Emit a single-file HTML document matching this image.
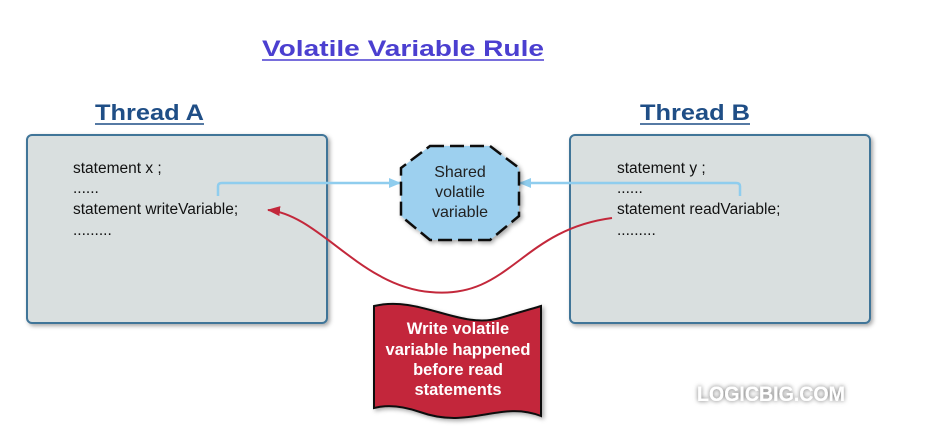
<!DOCTYPE html>
<html><head><style>body{margin:0;background:#fff}svg{display:block}</style></head><body>
<svg width="940" height="441" viewBox="0 0 940 441" xmlns="http://www.w3.org/2000/svg" font-family="Liberation Sans, sans-serif">
<defs>
<filter id="sh" x="-10%" y="-10%" width="130%" height="130%"><feDropShadow dx="2" dy="2" stdDeviation="2" flood-color="#000" flood-opacity="0.35"/></filter>
<filter id="glow" x="-10%" y="-30%" width="120%" height="160%"><feDropShadow dx="0" dy="0" stdDeviation="2.5" flood-color="#000" flood-opacity="0.6"/></filter>
<marker id="ab" markerWidth="12" markerHeight="10" refX="11" refY="5" orient="auto" markerUnits="userSpaceOnUse"><path d="M0,0 L12,5 L0,10 Z" fill="#8fcdee"/></marker>
<marker id="ar" markerWidth="14" markerHeight="10" refX="12" refY="5" orient="auto" markerUnits="userSpaceOnUse"><path d="M0,0 L13,5 L0,10 Z" fill="#c3283b"/></marker>
</defs>
<text x="262" y="56" font-size="22" font-weight="bold" fill="#4b3fd0" textLength="282" lengthAdjust="spacingAndGlyphs">Volatile Variable Rule</text>
<line x1="262" y1="60" x2="544" y2="60" stroke="#4b3fd0" stroke-width="1.5"/>
<text x="95" y="120" font-size="22" font-weight="bold" fill="#1f4e86" textLength="109" lengthAdjust="spacingAndGlyphs">Thread A</text>
<line x1="95" y1="124" x2="204" y2="124" stroke="#1f4e86" stroke-width="1.5"/>
<text x="640" y="120" font-size="22" font-weight="bold" fill="#1f4e86" textLength="110" lengthAdjust="spacingAndGlyphs">Thread B</text>
<line x1="640" y1="124" x2="750" y2="124" stroke="#1f4e86" stroke-width="1.5"/>
<rect x="27" y="135" width="300" height="188" rx="5" fill="#d9dfdf" stroke="#3f7498" stroke-width="2" filter="url(#sh)"/>
<rect x="570" y="135" width="300" height="188" rx="5" fill="#d9dfdf" stroke="#3f7498" stroke-width="2" filter="url(#sh)"/>
<g font-size="15.5" fill="#111">
<text x="73" y="173">statement x ;</text>
<text x="73" y="193">......</text>
<text x="73" y="214">statement writeVariable;</text>
<text x="73" y="235">.........</text>
<text x="617" y="173">statement y ;</text>
<text x="617" y="193">......</text>
<text x="617" y="214">statement readVariable;</text>
<text x="617" y="235">.........</text>
</g>
<path d="M218,196 L218,186 Q218,183 222,183 L400,183" fill="none" stroke="#8fcdee" stroke-width="2.5" marker-end="url(#ab)"/>
<path d="M740,196 L740,186 Q740,183 736,183 L520,183" fill="none" stroke="#8fcdee" stroke-width="2.5" marker-end="url(#ab)"/>
<polygon points="430,146 490,146 519,168 519,216 490,240 430,240 401,216 401,168" fill="#9dd0ef" stroke="#111" stroke-width="2.5" stroke-dasharray="14,6" filter="url(#sh)"/>
<g font-size="16" fill="#222" text-anchor="middle">
<text x="460" y="177">Shared</text><text x="460" y="197">volatile</text><text x="460" y="217">variable</text>
</g>
<path d="M612,218 C520,230 510,300 430,292 C360,286 320,215 268,210" fill="none" stroke="#c3283b" stroke-width="2" marker-end="url(#ar)"/>
<path d="M374,306 C420,295 460,330 500,318 C520,312 535,308 541,306 L541,416 C500,400 470,430 420,412 C400,405 385,405 374,408 Z" fill="#c3283b" stroke="#111" stroke-width="2" filter="url(#sh)"/>
<g font-size="16.5" font-weight="bold" fill="#fff" text-anchor="middle">
<text x="458" y="334">Write volatile</text><text x="458" y="355">variable happened</text><text x="458" y="375">before read</text><text x="458" y="395">statements</text>
</g>
<text x="697" y="401" font-size="21" font-weight="bold" fill="#fff" textLength="148" lengthAdjust="spacingAndGlyphs" filter="url(#glow)">LOGICBIG.COM</text>
</svg>
</body></html>
